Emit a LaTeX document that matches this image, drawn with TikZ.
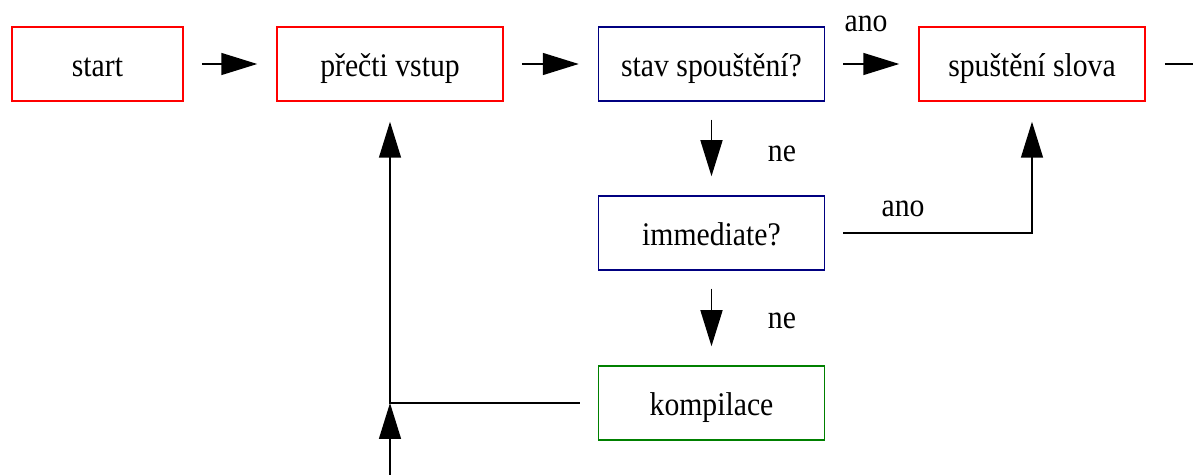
\documentclass[tikz,border=0pt]{standalone}
\usepackage{fontspec}
\setmainfont[FakeStretch=0.9]{Liberation Serif}
\usepackage{xcolor}
\usepackage{tikz}
\usetikzlibrary{arrows.meta}
\definecolor{boxred}{RGB}{255,0,0}
\definecolor{boxblue}{RGB}{0,0,128}
\definecolor{boxgreen}{RGB}{0,128,0}
\tikzset{every picture/.style={x=1bp,y=-1bp,line width=1.5bp,
    every node/.style={font=\fontsize{33bp}{38bp}\selectfont, inner sep=0pt}},
  box/.style={draw=#1, rectangle, minimum width=226bp, minimum height=74bp,
    text height=30bp, text depth=5bp},
  flow/.style={-{Triangle[length=36bp,width=22bp]}, shorten <=18bp, shorten >=19bp}}

\begin{document}
\begin{tikzpicture}
        \useasboundingbox (0,0) rectangle (1193,475);
        \node[box=boxred, minimum width=171bp] (start) at (97.5,64) {start};
        \node[box=boxred] (read) at (390,64) {přečti vstup};
        \node[box=boxblue] (state) at (711.5,64) {stav spouštění?};
        \node[box=boxred] (run) at (1032,64) {spuštění slova};
        \node[box=boxblue] (immediate) at (711.5,233) {immediate?};
        \node[box=boxgreen] (compile) at (711.5,403) {kompilace};

        % labels sit on their baselines
        \node[anchor=base] (yes1) at (866,31.5) {ano};
        \node[anchor=base] (no1) at (782,162) {ne};
        \node[anchor=base] (yes2) at (903,216.5) {ano};
        \node[anchor=base] (no2) at (782,329) {ne};

        \coordinate (join) at (read.south |- compile.west);
        \coordinate (below) at (390,485);
        \coordinate (exit) at (1200,64);

        \foreach \from/\to in {
          start/read, read/state, state/run,
          state/immediate, immediate/compile}
        \draw[flow] (\from) -- (\to);

        \draw[flow, shorten >=20bp] (immediate.east) -| (run.south);
        \draw[flow, shorten >=20bp] (compile.west) -| (read.south);
        \draw[flow, shorten <=0pt, shorten >=0pt] (below) -- (join);
        \draw[shorten <=19bp] (run.east) -- (exit);
    \end{tikzpicture}
\end{document}
